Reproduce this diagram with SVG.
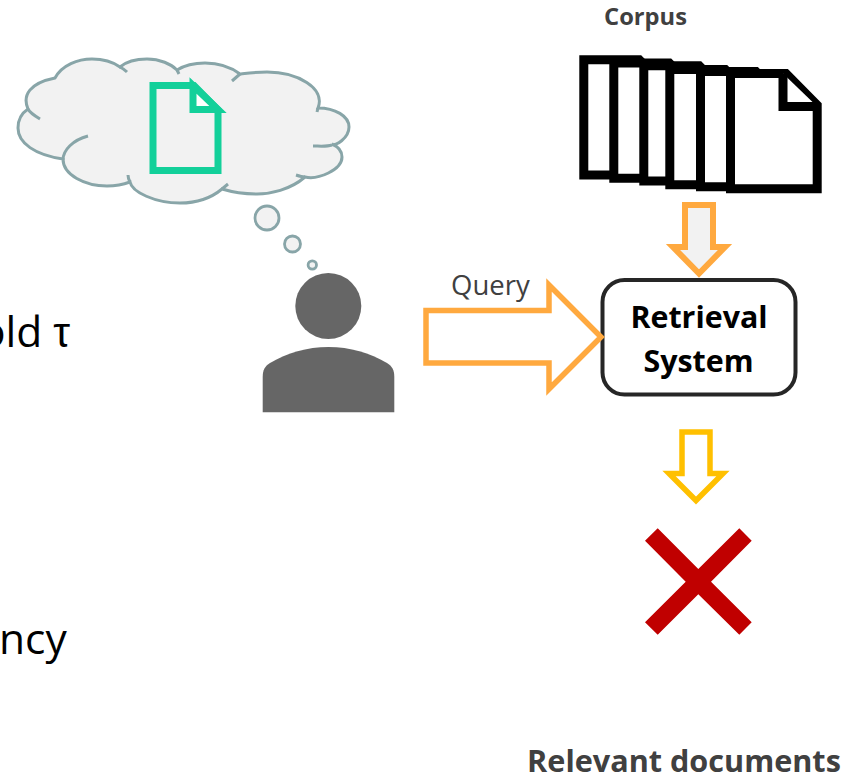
<svg xmlns="http://www.w3.org/2000/svg" width="860" height="775" viewBox="0 0 860 775">
<style>
text{font-family:"Open Sans","Liberation Sans",sans-serif}
.lbl{font-weight:700;fill:#404040}
.sys{font-weight:700;fill:#000;font-size:30.4px;text-anchor:middle}
.clip{font-size:42.5px;fill:#000}
.cl{fill:none;stroke:#88a5a8;stroke-width:3}
.bub{fill:#f2f2f2;stroke:#88a5a8;stroke-width:2.8}
.doc{fill:#fff;stroke:#000;stroke-width:9;stroke-miterlimit:8}
</style>
<defs>
<g id="paper"><path class="doc" d="M4.5,4.5H60L91.2,36V119.8H4.5Z"/><path class="doc" d="M57,4.5V37.5H91.2"/></g>
</defs>
<rect width="860" height="775" fill="#fff"/>
<g id="side-text">
<text class="clip" x="-20" y="347">old <tspan font-family="'Liberation Sans',sans-serif">τ</tspan></text>
<text class="clip" x="-1" y="654">ncy</text>
</g>
<g id="thought-cloud">
<path d="M28,109C22,95 30,83 55,78C62,65 78,59 92,59C103,59 113,62 120,67C127,61 137,59 147,59C160,59 171,64 177,70C185,65 195,63 205,63C220,63 232,68 240,74C249,73 257,72 267,72C297,72 326,88 318,108C335,108 349,116 349,127C349,138 335,147 332,144C339,147 342,152 342,157C342,170 318,180 305,177C290,190 270,194 257,194C245,194 232,192 222,189C210,199 195,203 180,203C155,203 132,192 130,182C122,185 114,186 107,186C85,186 63,175 63,159C35,155 18,143 18,128C18,120 22,113 28,109Z" fill="#f2f2f2" stroke="#88a5a8" stroke-width="3"/>
<path class="cl" d="M28,109C30,113 35,116 40,119M120,67C122,68 125,70 127,72M177,70L179,74M240,74L232,81M318,108L317,112M332,145C326,147 319,146 313,146M305,177C302,177 299,176 296,175M222,189L228,184M130,182C129,180 128,178 128,175M63,160C63,150 73,140 88,136"/>
<circle class="bub" cx="267" cy="218" r="12"/>
<circle class="bub" cx="292.5" cy="244" r="8"/>
<circle class="bub" cx="312.3" cy="265" r="4.2"/>
</g>
<g id="query-document">
<path d="M153,85.5H194L218,110V170.5H153Z" fill="none" stroke="#13d09a" stroke-width="7"/>
<path d="M193,85.5V109.5H218Z" fill="#fff" stroke="#13d09a" stroke-width="7"/>
</g>
<g id="user">
<circle cx="328.3" cy="306" r="33" fill="#666"/>
<path d="M262.7,412.3V377C262.7,370 265,366 270,363C287,353 307,347 328.5,347C350,347 370,353 387,363C392,366 394.3,370 394.3,377V412.3Z" fill="#666"/>
</g>
<g id="corpus">
<text class="lbl" x="645.5" y="25" font-size="23.7" text-anchor="middle">Corpus</text>
<use href="#paper" x="579.3" y="55.3"/>
<use href="#paper" x="609.3" y="58.4"/>
<use href="#paper" x="639.3" y="61.3"/>
<use href="#paper" x="665.3" y="65"/>
<use href="#paper" x="696" y="67"/>
<use href="#paper" x="726" y="69"/>
</g>
<g id="retrieval-system">
<rect x="602.5" y="280" width="193" height="114.5" rx="22" fill="#fff" stroke="#262626" stroke-width="4"/>
<text class="sys" x="699" y="328">Retrieval</text>
<text class="sys" x="698.5" y="372">System</text>
</g>
<g id="connectors">
<path d="M426,310.5H549V285L601,337L549,389V363H426Z" fill="none" stroke="#ffa93f" stroke-width="5.5"/>
<path d="M685,205H713V247H725L699,273.5L673,247H685Z" fill="#f2f2f2" stroke="#ffa93f" stroke-width="6"/>
<path d="M682,432H710V473.5H723L696,500.5L669,473.5H682Z" fill="#fff" stroke="#ffc000" stroke-width="5.5"/>
</g>
<g id="query-label"><text x="451" y="295" font-size="27.5" fill="#404040">Query</text></g>
<g id="no-result">
<path d="M657.7,528.3L698.3,569L739.3,528.3L751.7,540.7L711,581.7L751.7,622.3L739.3,634.7L698.3,594.3L657.7,634.7L645,622.3L685.7,581.7L645,540.7Z" fill="#c00000"/>
</g>
<g id="relevant-documents"><text class="lbl" x="684" y="772" font-size="30.6" text-anchor="middle">Relevant documents</text></g>
</svg>
